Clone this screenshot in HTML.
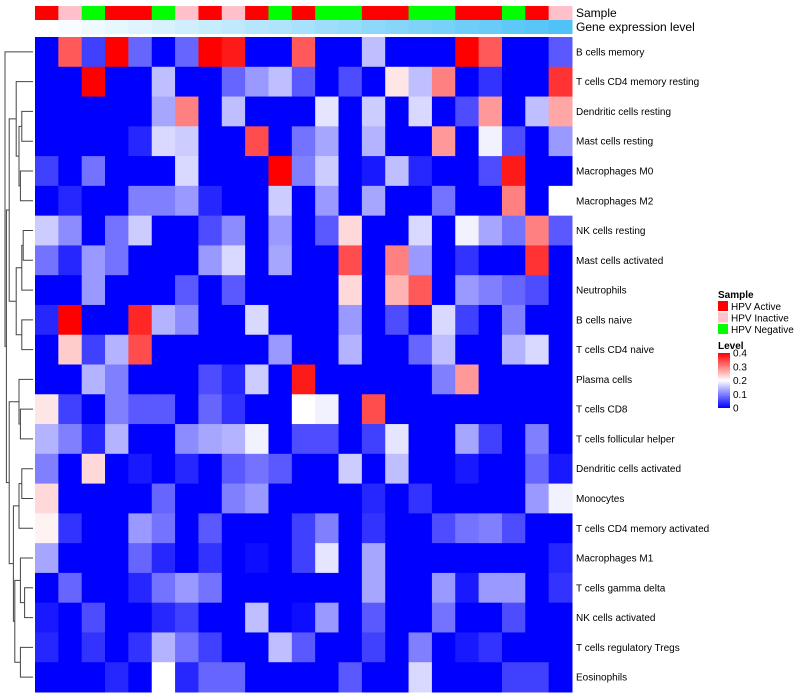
<!DOCTYPE html>
<html><head><meta charset="utf-8"><style>
body{margin:0;background:#fff;}
svg{display:block;font-family:"Liberation Sans",sans-serif;}
</style></head><body>
<svg id="chart" width="800" height="700" viewBox="0 0 800 700"></svg>
<script>
const rowLabels=["B cells memory","T cells CD4 memory resting","Dendritic cells resting","Mast cells resting","Macrophages M0","Macrophages M2","NK cells resting","Mast cells activated","Neutrophils","B cells naive","T cells CD4 naive","Plasma cells","T cells CD8","T cells follicular helper","Dendritic cells activated","Monocytes","T cells CD4 memory activated","Macrophages M1","T cells gamma delta","NK cells activated","T cells regulatory  Tregs","Eosinophils"];
const sampleGroups=["HPV Active","HPV Inactive","HPV Negative","HPV Active","HPV Active","HPV Negative","HPV Inactive","HPV Active","HPV Inactive","HPV Active","HPV Negative","HPV Active","HPV Negative","HPV Negative","HPV Active","HPV Active","HPV Negative","HPV Negative","HPV Active","HPV Active","HPV Negative","HPV Active","HPV Inactive"];
const geneLevel=[0,0.05,0.09,0.14,0.18,0.23,0.27,0.32,0.36,0.41,0.45,0.5,0.55,0.59,0.64,0.68,0.73,0.77,0.82,0.86,0.91,0.95,1];
const values=[
[0,0.33,0.05,0.4,0.08,0,0.08,0.4,0.38,0,0,0.33,0,0,0.15,0,0,0,0.4,0.33,0,0,0.07],
[0,0,0.4,0,0,0.15,0,0,0.08,0.12,0.15,0.07,0,0.06,0,0.22,0.15,0.3,0,0.04,0,0,0.36],
[0,0,0,0,0,0.13,0.3,0,0.15,0,0,0,0.18,0,0.16,0,0.17,0,0.06,0.28,0,0.15,0.27],
[0,0,0,0,0.03,0.17,0.16,0,0,0.34,0,0.09,0.13,0,0.14,0,0,0.28,0,0.19,0.06,0,0.12],
[0.05,0,0.09,0,0,0,0.17,0,0,0,0.4,0.1,0.16,0,0.02,0.15,0.03,0,0,0.06,0.38,0,0],
[0,0.03,0,0,0.1,0.1,0.12,0.03,0,0,0.16,0,0.12,0,0.13,0,0,0.09,0,0,0.3,0,0.2],
[0.16,0.11,0,0.09,0.16,0,0,0.06,0.11,0,0.12,0,0.07,0.23,0,0,0.17,0,0.19,0.13,0.09,0.3,0.07],
[0.09,0.03,0.12,0.09,0,0,0,0.12,0.17,0,0.13,0,0,0.34,0,0.3,0.12,0,0.04,0,0,0.36,0],
[0,0,0.12,0,0,0,0.07,0,0.07,0,0,0,0,0.23,0,0.26,0.33,0,0.12,0.1,0.08,0.06,0],
[0.03,0.4,0,0,0.37,0.14,0.11,0,0,0.17,0,0,0,0.12,0,0.06,0,0.17,0.05,0,0.1,0,0],
[0,0.24,0.05,0.14,0.34,0,0,0,0,0,0.12,0,0,0.14,0,0,0.08,0.15,0,0,0.14,0.17,0],
[0,0,0.14,0.1,0,0,0,0.06,0.03,0.16,0,0.38,0,0,0,0,0,0.1,0.28,0,0,0,0],
[0.22,0.05,0,0.1,0.07,0.07,0,0.08,0.04,0,0,0.2,0.19,0,0.34,0,0,0,0,0,0,0,0],
[0.14,0.1,0.03,0.14,0,0,0.11,0.13,0.14,0.19,0,0.06,0.06,0,0.05,0.18,0,0,0.13,0.05,0,0.1,0],
[0.1,0,0.23,0,0.02,0,0.03,0,0.07,0.09,0.07,0,0,0.16,0,0.15,0,0,0.02,0,0,0.08,0.02],
[0.23,0,0,0,0,0.08,0,0,0.1,0.12,0,0,0,0,0.03,0,0.04,0,0,0,0,0.12,0.19],
[0.21,0.04,0,0,0.12,0.09,0,0.07,0,0,0,0.05,0.1,0,0.04,0,0,0.06,0.09,0.1,0.06,0,0],
[0.13,0,0,0,0.08,0.03,0,0.04,0,0.01,0,0.05,0.18,0,0.13,0,0,0,0,0,0,0,0.03],
[0,0.08,0,0,0.03,0.09,0.12,0.09,0,0,0,0,0,0,0.13,0,0,0.12,0.02,0.12,0.12,0,0.04],
[0.02,0,0.06,0,0,0.03,0.05,0,0,0.15,0,0.01,0.12,0,0.07,0,0,0.09,0,0,0.06,0,0],
[0.03,0,0.04,0,0.04,0.14,0.09,0.05,0,0,0.15,0.07,0,0,0.05,0,0.1,0,0.02,0.04,0,0,0],
[0,0,0,0.03,0,0.2,0.03,0.08,0.08,0,0,0,0,0.07,0,0,0.17,0,0,0,0.05,0.05,0]
];
const legendTicks=["0.4","0.3","0.2","0.1","0"];
const legendTickValues=[0.4,0.3,0.2,0.1,0];
const dendro=[1.0,0,[0.95,[0.85,[0.6,1,[0.5,[0.4,2,3],[0.45,4,5]]],[0.6,[0.4,[0.35,6,7],8],[0.4,9,10]]],[0.85,[0.5,11,[0.45,12,13]],[0.7,[0.5,[0.4,14,15],16],[0.65,[0.45,17,[0.3,18,19]],[0.45,20,21]]]]]];

const NS="http://www.w3.org/2000/svg";
const svg=document.getElementById('chart');
const X0=35,X1=572,Y0=37,Y1=692;
const nC=values[0].length,nR=values.length;
const cw=(X1-X0)/nC,rh=(Y1-Y0)/nR;
const xCol=i=>X0+i*cw, yRow=j=>Y0+j*rh;
const groupColor={"HPV Active":"#FF0000","HPV Inactive":"#FFC0CB","HPV Negative":"#00FF00"};
function lerp(a,b,t){return Math.round(a+(b-a)*t);}
function heatColor(v){
  const t=Math.max(0,Math.min(1,v/0.4));
  let r,g,b;
  if(t<0.5){const u=t/0.5;r=lerp(0,255,u);g=lerp(0,255,u);b=255;}
  else{const u=(t-0.5)/0.5;r=255;g=lerp(255,0,u);b=lerp(255,0,u);}
  return `rgb(${r},${g},${b})`;
}
function geneColor(v){return `rgb(${lerp(255,79,v)},${lerp(255,195,v)},${lerp(255,247,v)})`;}
function mk(tag,attrs){const e=document.createElementNS(NS,tag);for(const k in attrs)e.setAttribute(k,attrs[k]);return e;}

// annotation bars
for(let i=0;i<nC;i++){
  const r=mk('rect',{x:xCol(i),y:6,width:cw+0.5,height:14,fill:groupColor[sampleGroups[i]]});
  
  
  svg.appendChild(r);
  const g=mk('rect',{x:xCol(i),y:20,width:cw+0.5,height:14,fill:geneColor(geneLevel[i])});
  
  
  svg.appendChild(g);
}
const t1=mk('text',{x:576,y:17,'font-size':12,fill:'#000'});t1.textContent='Sample';
svg.appendChild(t1);
const t2=mk('text',{x:576,y:31,'font-size':12,fill:'#000'});t2.textContent='Gene expression level';
svg.appendChild(t2);

// heatmap cells
for(let j=0;j<nR;j++){
  for(let i=0;i<nC;i++){
    const c=mk('rect',{x:xCol(i),y:yRow(j),width:cw+0.5,height:rh+0.5,fill:heatColor(values[j][i])});
    
    
    svg.appendChild(c);
  }
  const l=mk('text',{x:576,y:yRow(j)+rh/2+3.5,'font-size':10,fill:'#000'});
  l.textContent=rowLabels[j];
  
  
  l.setAttribute('xml:space','preserve');
  svg.appendChild(l);
}

// dendrogram
const hx=h=>33-h*28;
function draw(node){
  if(typeof node==='number') return {x:33,y:yRow(node)+rh/2};
  const a=draw(node[1]),b=draw(node[2]);const x=hx(node[0]);
  const p=mk('path',{d:`M${a.x},${a.y}H${x}V${b.y}H${b.x}`,fill:'none',stroke:'#444','stroke-width':1});
  
  
  svg.appendChild(p);
  return {x:x,y:(a.y+b.y)/2};
}
draw(dendro);

// legend
const lg=mk('g',{});svg.appendChild(lg);
const sh=mk('text',{x:718,y:298,'font-size':10,'font-weight':'bold'});sh.textContent='Sample';
lg.appendChild(sh);
["HPV Active","HPV Inactive","HPV Negative"].forEach((n,k)=>{
  const y=301+k*11.5;
  const s=mk('rect',{x:718,y:y,width:10,height:10,fill:groupColor[n]});
  lg.appendChild(s);
  const t=mk('text',{x:731,y:y+9,'font-size':10});t.textContent=n;
  lg.appendChild(t);
});
const lh=mk('text',{x:718,y:349,'font-size':10,'font-weight':'bold'});lh.textContent='Level';
lg.appendChild(lh);
const defs=mk('defs',{});const grad=mk('linearGradient',{id:'lv',x1:0,y1:0,x2:0,y2:1});
[[0,'#FF0000'],[0.5,'#FFFFFF'],[1,'#0000FF']].forEach(s=>grad.appendChild(mk('stop',{offset:s[0],'stop-color':s[1]})));
defs.appendChild(grad);svg.appendChild(defs);
const cbTop=353,cbBot=408;
const cb=mk('rect',{x:718,y:cbTop,width:12,height:cbBot-cbTop,fill:'url(#lv)'});
lg.appendChild(cb);
legendTicks.forEach((t,k)=>{
  const y=cbBot-(legendTickValues[k]/0.4)*(cbBot-cbTop);
  const tx=mk('text',{x:733,y:y+3.5,'font-size':10});tx.textContent=t;
  lg.appendChild(tx);
});
</script>
</body></html>
